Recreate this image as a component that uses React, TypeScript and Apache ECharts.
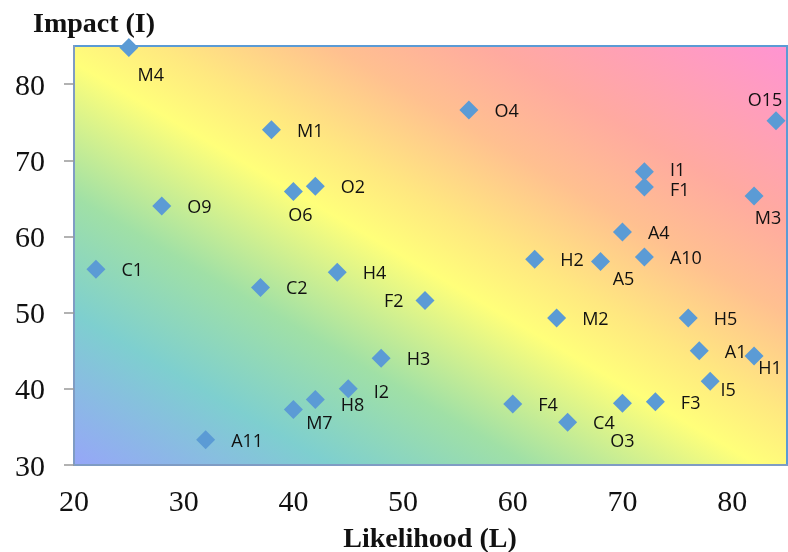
import React, { useEffect, useRef } from "react";
import * as echarts from "echarts";

const names = ["M4","O4","O15","M1","I1","F1","O2","O6","M3","O9","A4","A10","H2","A5","C1","H4","C2","F2","M2","H5","A1","H1","H3","I5","I2","H8","F4","C4","O3","F3","M7","A11"];
const likelihood = [25,56,84,38,72,72,42,40,82,28,70,72,62,68,22,44,37,52,64,76,77,82,48,78,45,42,60,65,70,73,40,32];
const impact = [84.8,76.6,75.2,74,68.5,66.5,66.6,65.9,65.3,64,60.6,57.3,57,56.7,55.7,55.3,53.3,51.6,49.3,49.3,45,44.3,44,41,40,38.6,38,35.6,38.1,38.3,37.3,33.3];

const xTicks = [20, 30, 40, 50, 60, 70, 80];
const yTicks = [30, 40, 50, 60, 70, 80];

// label placement (layout only): centred offsets for labels not placed to the right
const centredLabelOffsets: Record<string, [number, number]> = {
  M4: [22, 26],
  O15: [-11, -22],
  O6: [7, 22],
  M3: [14, 21],
  A5: [23, 16],
  H1: [16, 11],
  I5: [18, 8],
  M7: [26, 13],
  O3: [0, 37],
};
const leftLabels = ["F2"];
const rightLabelOffsets: Record<string, [number, number]> = { H8: [0, 5], I2: [0, 2], I1: [0, -3], F1: [0, 2] };

export default function App() {
  const ref = useRef<HTMLDivElement>(null);
  useEffect(() => {
    if (!ref.current) return;
    const chart = echarts.init(ref.current, null, { renderer: "svg" });
    const labelFont = { fontFamily: "Open Sans", fontSize: 18, lineHeight: 15, color: "#111" };
    const data = names.map((n, i) => {
      let label: any;
      if (centredLabelOffsets[n]) {
        label = { position: "inside", offset: centredLabelOffsets[n] };
      } else if (leftLabels.includes(n)) {
        label = { position: "left", distance: 12 };
      } else {
        label = { position: "right", distance: 16, offset: rightLabelOffsets[n] || [0, 0] };
      }
      return { name: n, value: [likelihood[i], impact[i]], label };
    });
    chart.setOption({
      animation: false,
      grid: {
        left: 74,
        right: 1,
        top: 46,
        bottom: 87,
        show: true,
        borderColor: "#5B9BD5",
        borderWidth: 2,
        backgroundColor: {
          type: "linear",
          x: 0,
          y: 1,
          x2: 1,
          y2: 0,
          colorStops: [
            { offset: 0, color: "#96A6F8" },
            { offset: 0.18, color: "#7ECFCF" },
            { offset: 0.32, color: "#A0E0A6" },
            { offset: 0.48, color: "#FFFF7A" },
            { offset: 0.56, color: "#FFE880" },
            { offset: 0.68, color: "#FFC090" },
            { offset: 0.79, color: "#FFAAA0" },
            { offset: 1, color: "#FF94D2" },
          ],
        },
      },
      xAxis: {
        type: "value",
        min: 20,
        max: 85,
        splitLine: { show: false },
        axisLine: { show: true, lineStyle: { color: "#7F9CC4", width: 2 } },
        axisTick: { show: false, customValues: xTicks },
        axisLabel: {
          customValues: xTicks,
          margin: 20,
          fontFamily: "Liberation Serif",
          fontSize: 30,
          color: "#111",
        },
      },
      yAxis: {
        type: "value",
        min: 30,
        max: 85,
        splitLine: { show: false },
        axisLine: { show: true, lineStyle: { color: "#7F9CC4", width: 2 } },
        axisTick: { show: true, inside: false, length: 10, customValues: yTicks, lineStyle: { color: "#999", width: 1.5 } },
        axisLabel: {
          customValues: yTicks,
          margin: 29,
          fontFamily: "Liberation Serif",
          fontSize: 30,
          color: "#111",
        },
      },
      graphic: [
        {
          type: "text",
          left: 33,
          top: 8,
          style: { text: "Impact (I)", font: "bold 28px 'Liberation Serif'", fill: "#111" },
        },
        {
          type: "text",
          x: 430,
          y: 537,
          style: {
            text: "Likelihood (L)",
            font: "bold 28px 'Liberation Serif'",
            fill: "#111",
            textAlign: "center",
            textVerticalAlign: "middle",
          },
        },
      ],
      series: [
        {
          type: "scatter",
          symbol: "diamond",
          symbolSize: 19,
          clip: false,
          itemStyle: { color: "#5B9BD5", opacity: 1 },
          label: { show: true, formatter: "{b}", ...labelFont },
          data,
        },
      ],
    });
    return () => chart.dispose();
  }, []);
  return <div ref={ref} style={{ position: "fixed", left: 0, top: 0, width: 788, height: 552 }} />;
}
